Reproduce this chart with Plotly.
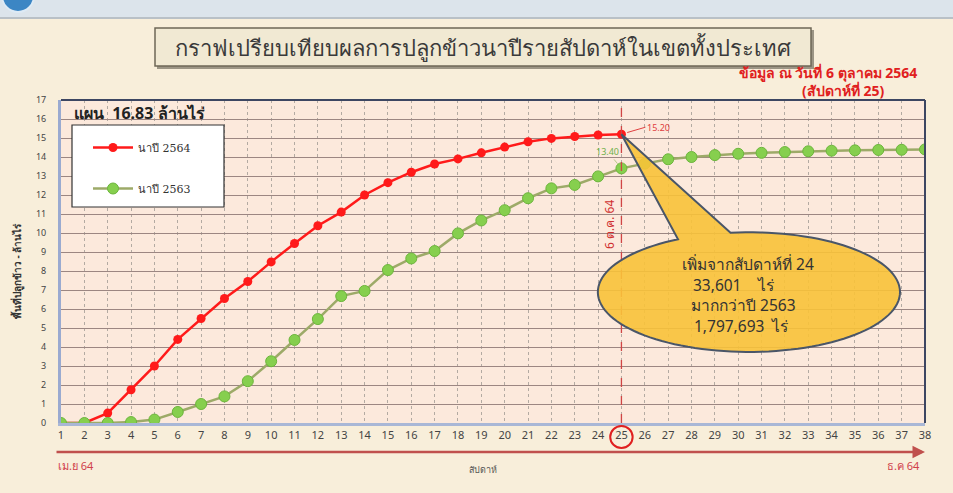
"""Weekly in-season rice planting comparison, whole country"""

import numpy as np
import plotly.graph_objects as go

# data (million rai, cumulative planted area by week)
weeks = list(range(1, 39))
area_2564 = [0, 0, 0.52, 1.75, 3.0, 4.4, 5.5, 6.55, 7.45, 8.48, 9.45, 10.38, 11.1,
             12.0, 12.65, 13.2, 13.63, 13.9, 14.22, 14.52, 14.8, 14.98, 15.08, 15.16, 15.2]
area_2563 = [0, 0, 0, 0.05, 0.18, 0.58, 1.0, 1.4, 2.2, 3.25, 4.37, 5.47, 6.68, 6.95,
             8.05, 8.66, 9.05, 9.98, 10.66, 11.2, 11.83, 12.35, 12.53, 12.98, 13.4,
             13.65, 13.88, 14.0, 14.1, 14.17, 14.22, 14.26, 14.3, 14.33, 14.35, 14.37,
             14.38, 14.4]
series_names = ["นาปี 2564", "นาปี 2563"]
y_ticks = list(range(0, 18))
current_week = 25

FONT = "Noto Sans, Tahoma, sans-serif"
W, H = 953, 493
L, R, T, B = 61, 28, 100, 70


def px(x):
    """page pixel x -> paper"""
    return (x - L) / (W - L - R)


def py(y):
    """page pixel y -> paper"""
    return (H - B - y) / (H - T - B)


fig = go.Figure()

fig.add_trace(go.Scatter(
    x=weeks[:len(area_2564)], y=area_2564, name=series_names[0],
    mode="lines+markers", legendgroup="a",
    line=dict(color="#FF1A1A", width=2.5),
    marker=dict(color="#FF1A1A", size=9),
))
fig.add_trace(go.Scatter(
    x=weeks[:len(area_2563)], y=area_2563, name=series_names[1],
    mode="lines+markers", legendgroup="b",
    line=dict(color="#9DAA68", width=2.5),
    marker=dict(color="#86CF4E", size=11, line=dict(color="#6CB53C", width=1)),
))

shapes = []
# header band
shapes.append(dict(type="rect", xref="paper", yref="paper", x0=px(0), x1=px(W),
                   y0=py(17), y1=py(0), fillcolor="#DCE4EB", line_width=0, layer="below"))
shapes.append(dict(type="line", xref="paper", yref="paper", x0=px(0), x1=px(W),
                   y0=py(18), y1=py(18), line=dict(color="#B9C0C6", width=2), layer="below"))
shapes.append(dict(type="circle", xref="paper", yref="paper", x0=px(2), x1=px(34),
                   y0=py(12), y1=py(-20), fillcolor="#3C86C4", line=dict(color="#DDEAF5", width=2),
                   layer="below"))
# title box
shapes.append(dict(type="rect", xref="paper", yref="paper", x0=px(157), x1=px(814),
                   y0=py(69), y1=py(30), fillcolor="#9C9585", line_width=0))
shapes.append(dict(type="rect", xref="paper", yref="paper", x0=px(155), x1=px(811),
                   y0=py(66), y1=py(28), fillcolor="#F1E9D3",
                   line=dict(color="#6E6757", width=1.5)))
# plot frame top / right
shapes.append(dict(type="line", xref="paper", yref="paper", x0=0, x1=1, y0=1, y1=1,
                   line=dict(color="#3D4662", width=2)))
shapes.append(dict(type="line", xref="paper", yref="paper", x0=1, x1=1, y0=0, y1=1,
                   line=dict(color="#3D4662", width=2)))
# legend box
shapes.append(dict(type="rect", xref="paper", yref="paper", x0=px(72), x1=px(224),
                   y0=py(207), y1=py(125), fillcolor="white",
                   line=dict(color="#333333", width=1.2)))
# current week marker
shapes.append(dict(type="line", xref="x", yref="paper", x0=current_week, x1=current_week,
                   y0=0, y1=1, line=dict(color="#D04545", width=1.3, dash="dash")))
shapes.append(dict(type="circle", xref="x", yref="paper",
                   x0=current_week - 0.48, x1=current_week + 0.48,
                   y0=py(448), y1=py(426), line=dict(color="#E02020", width=2)))

# callout bubble with beak pointing at latest value
cx, cy, rx, ry = 30.46, 6.89, 6.47, 3.15
t = np.radians(np.linspace(97, -242, 120))
ex = cx + rx * np.cos(t)
ey = cy + ry * np.sin(t)
path = f"M {current_week},{area_2564[-1]} " + " ".join(
    f"L {a:.3f},{b:.3f}" for a, b in zip(ex, ey)) + " Z"
shapes.append(dict(type="path", xref="x", yref="y", path=path,
                   fillcolor="rgba(248,194,56,0.9)",
                   line=dict(color="#4A5668", width=2), layer="above"))

annotations = []


def note(text, x, y, size=12, color="#333", xanchor="center", **kw):
    annotations.append(dict(text=text, x=px(x), y=py(y), xref="paper", yref="paper",
                            showarrow=False, xanchor=xanchor, yanchor="middle",
                            font=dict(size=size, color=color, family=FONT), **kw))


note("กราฟเปรียบเทียบผลการปลูกข้าวนาปีรายสัปดาห์ในเขตทั้งประเทศ", 483, 47, size=22, color="#3A3A3A")
note("<b>ข้อมูล ณ วันที่ 6 ตุลาคม 2564</b>", 919, 72, size=14, color="#E02020", xanchor="right")
note("<b>(สัปดาห์ที่ 25)</b>", 886, 90, size=14, color="#E02020", xanchor="right")
note("<b>แผน  16.83 ล้านไร่</b>", 72, 113, size=16, color="#222", xanchor="left")
note("<b>พื้นที่ปลูกข้าว - ล้านไร่</b>", 17, 271, size=10, color="#333", textangle=-90)
note("สัปดาห์", 483, 470, size=9, color="#555")
note("เม.ย 64", 56, 465, size=11, color="#D0404A", xanchor="left")
note("ธ.ค 64", 922, 465, size=11, color="#D0404A", xanchor="right")
note("6 ต.ค. 64", 609, 225, size=12, color="#D03030", textangle=-90)
# callout text, one line each
note("เพิ่มจากสัปดาห์ที่ 24", 680, 264, size=15.5, color="#333", xanchor="left")
note("33,601    ไร่", 691, 285, size=15.5, color="#333", xanchor="left")
note("มากกว่าปี 2563", 689, 305, size=15.5, color="#333", xanchor="left")
note("1,797,693  ไร่", 692, 326, size=15.5, color="#333", xanchor="left")

# value labels at current week
annotations.append(dict(text="15.20", x=current_week, y=area_2564[-1], xref="x", yref="y",
                        ax=24, ay=-7, arrowhead=0, arrowwidth=1, arrowcolor="#E04040",
                        standoff=6, xanchor="left",
                        font=dict(size=9, color="#E04040", family=FONT)))
annotations.append(dict(text="13.40", x=current_week, y=area_2563[current_week - 1],
                        xref="x", yref="y", ax=-14, ay=-17, arrowhead=0, arrowwidth=1,
                        arrowcolor="#B8C88A", standoff=6,
                        font=dict(size=9, color="#6FB04A", family=FONT)))
# timeline arrow under the axis
annotations.append(dict(text="", x=px(925), y=py(452), xref="paper", yref="paper",
                        ax=-870, ay=0, showarrow=True, arrowhead=2, arrowsize=1,
                        arrowwidth=2.5, arrowcolor="#C0504D"))

fig.update_layout(
    width=W, height=H,
    margin=dict(l=L, r=R, t=T, b=B),
    paper_bgcolor="#F8EEDA",
    plot_bgcolor="#FCE9DC",
    font=dict(family=FONT, color="#444"),
    showlegend=True,
    legend=dict(x=px(88), y=py(133), xanchor="left", yanchor="top",
                bgcolor="rgba(0,0,0,0)", borderwidth=0, tracegroupgap=22,
                itemwidth=40, font=dict(size=11, color="#333", family="DejaVu Serif, serif")),
    xaxis=dict(range=[1, 38], tickvals=weeks, showgrid=True,
               gridcolor="#B3AAA2", griddash="dot", gridwidth=1,
               showline=True, linecolor="#A9B7D6", linewidth=3,
               tickfont=dict(size=11, color="#444"), zeroline=False, ticks=""),
    yaxis=dict(range=[0, 17], tickvals=y_ticks, showgrid=True,
               gridcolor="#9C8682", gridwidth=1,
               showline=True, linecolor="#9AAAD0", linewidth=3,
               tickfont=dict(size=9, color="#444"), zeroline=False, ticks="",
               ticklabelstandoff=10),
    shapes=shapes,
    annotations=annotations,
)

fig.write_html("out.html", config={"displayModeBar": False},
               post_script="document.body.style.margin='0';")
